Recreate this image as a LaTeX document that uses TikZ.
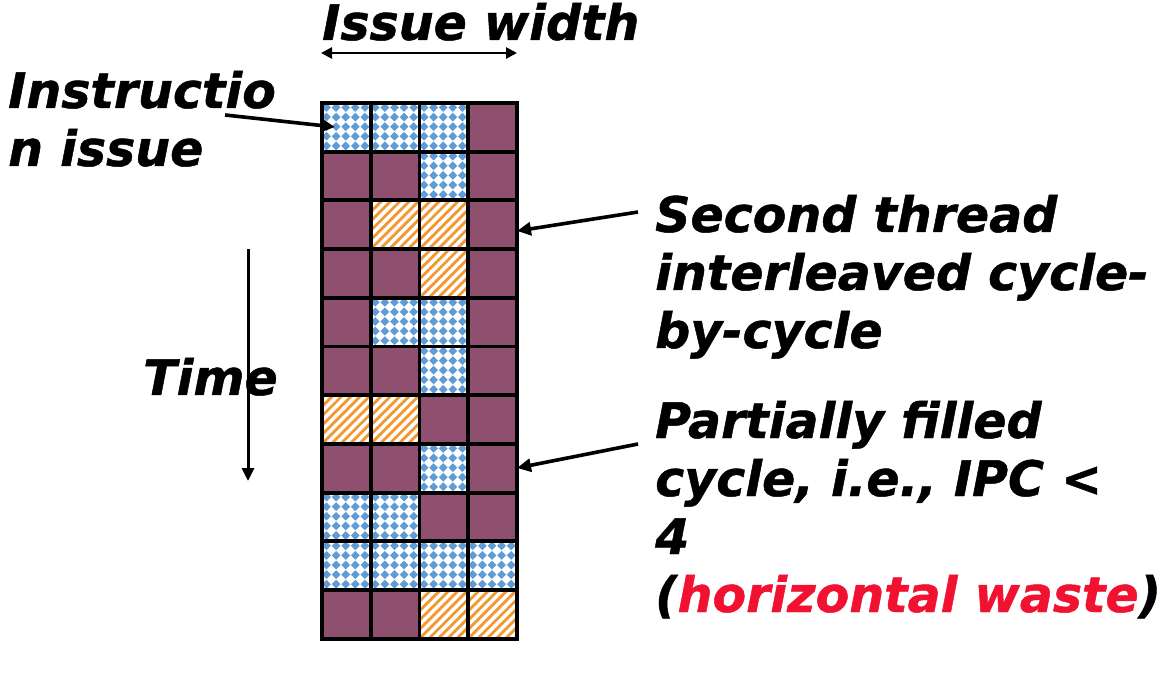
\documentclass[tikz,border=0pt]{standalone}
\usepackage{fontspec}
\newfontfamily\lblfont{DejaVuSans-BoldOblique.ttf}[FakeBold=1]
\usetikzlibrary{arrows.meta,calc}
\definecolor{purp}{RGB}{143,80,112}
\definecolor{dotblue}{RGB}{95,155,212}
\definecolor{stripeorg}{RGB}{243,152,48}
\definecolor{wastered}{RGB}{240,18,48}
\newcommand\cw{48.75}
\newcommand\ch{48.7}
\newcommand\cellP[2]{\fill[purp] (#1,#2) rectangle ++(\cw,\ch);}
\newcommand\cellB[2]{%
  \begin{scope}
    \clip (#1,#2) rectangle ++(\cw,\ch);
    \fill[white] (#1,#2) rectangle ++(\cw,\ch);
    \foreach \j in {0,...,5}{
      \foreach \i in {0,...,5}{
        \fill[dotblue,shift={({#1+4.5+\i*9.6},{#2+4.5+\j*9.6})}] (-4.4,0)--(0,-4.4)--(4.4,0)--(0,4.4)--cycle;
      }
    }
  \end{scope}}
\newcommand\cellO[2]{%
  \begin{scope}
    \clip (#1,#2) rectangle ++(\cw,\ch);
    \fill[white] (#1,#2) rectangle ++(\cw,\ch);
    \foreach \k in {-55.8,-46.5,...,55.8}{
      \draw[stripeorg,line width=2.8pt] ({#1+\k},{#2+\ch}) -- ++(60,-60);
    }
  \end{scope}}
\tikzset{
  lbl/.style={anchor=base west,inner sep=0pt,align=left,font=\fontsize{49}{58}\selectfont\lblfont},
  arr/.style={line width=3.6pt,-{Triangle[length=14pt,width=13pt]}},
  gridline/.style={line width=3.8pt,black}
}
\begin{document}
\begin{tikzpicture}[x=1pt,y=-1pt]
\useasboundingbox (0,0) rectangle (1165,684);
% cells
\foreach \row [count=\r from 0] in {{B,B,B,P},{P,P,B,P},{P,O,O,P},{P,P,O,P},{P,B,B,P},{P,P,B,P},{O,O,P,P},{P,P,B,P},{B,B,P,P},{B,B,B,B},{P,P,O,O}}{
  \foreach \t [count=\c from 0] in \row {
    \pgfmathsetmacro\xa{322+\c*\cw}
    \pgfmathsetmacro\ya{103+\r*\ch}
    \csname cell\t\endcsname{\xa}{\ya}
  }
}
% grid lines
\foreach \c in {0,...,4}{
  \draw[gridline] ({322+\c*\cw},{103-1.9}) -- ({322+\c*\cw},{103+11*\ch+1.9});
}
\foreach \r in {0,...,11}{
  \draw[gridline] (322,{103+\r*\ch}) -- ({322+4*\cw},{103+\r*\ch});
}
% labels
\node[lbl] (iw) at (322,40) {Issue width};
\node[lbl] (ii) at (8,166) {Instructio\\n issue};
\node[lbl] (time) at (143,395) {Time};
\node[lbl] (st) at (655,348) {Second thread\\interleaved cycle-\\by-cycle};
\node[lbl] (pf) at (655,612) {Partially filled\\cycle, i.e., IPC <\\4\\(\textcolor{wastered}{horizontal waste})};
% connector coordinates
\coordinate (iwL) at (321,53);
\coordinate (iwR) at (517,53);
\coordinate (iiS) at (225,115);
\coordinate (iiE) at (335,127);
\coordinate (tS) at (248,249);
\coordinate (tE) at (248,481);
\coordinate (stS) at (638,212);
\coordinate (stE) at (517,231);
\coordinate (pfS) at (638,444);
\coordinate (pfE) at (517,468);
% connectors
\draw[line width=2.6pt,{Triangle[length=11pt,width=11pt]}-{Triangle[length=11pt,width=11pt]}] (iwL) -- (iwR);
\draw[arr] (iiS) -- (iiE);
\draw[line width=3pt,-{Triangle[length=13pt,width=12pt]}] (tS) -- (tE);
\draw[arr] (stS) -- (stE);
\draw[arr] (pfS) -- (pfE);
\end{tikzpicture}
\end{document}
